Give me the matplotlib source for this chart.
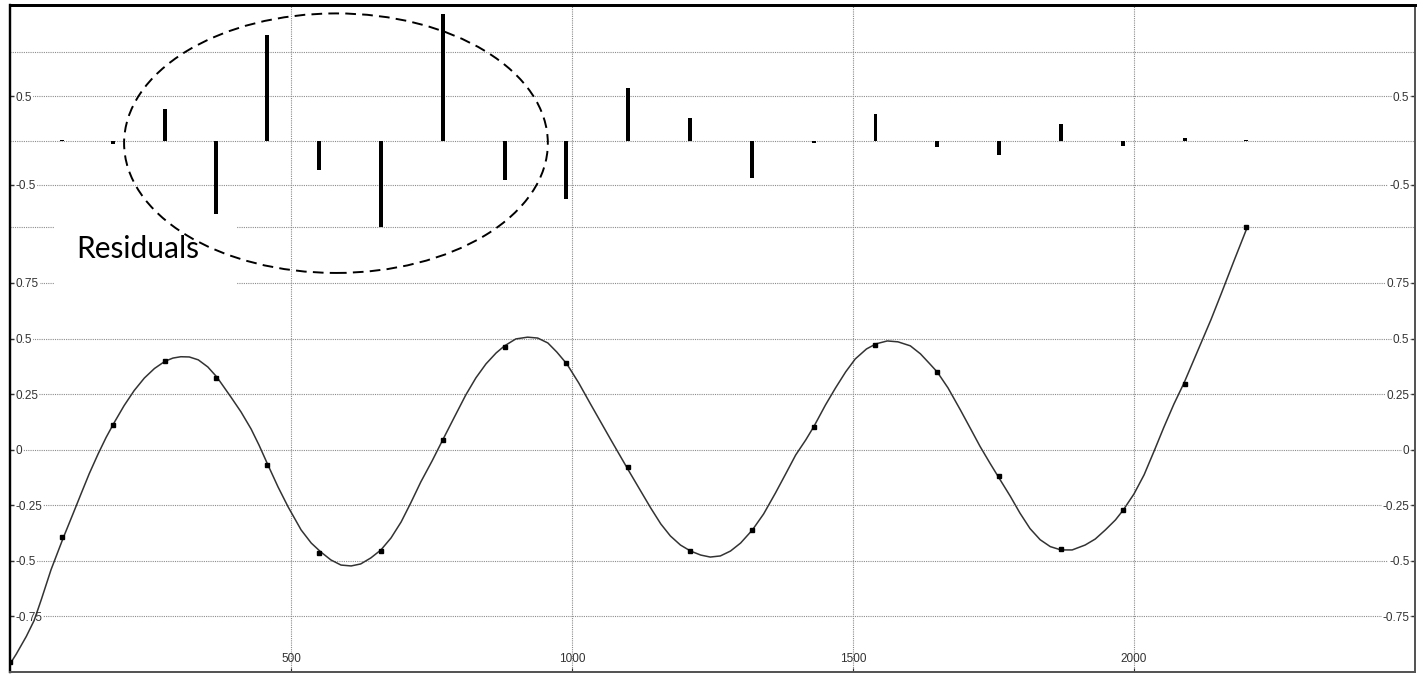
import numpy as np
import matplotlib
matplotlib.use("Agg")
import matplotlib.pyplot as plt
from matplotlib.patches import Ellipse, Rectangle

# sample points (x, measured value)
pts_x = [0, 92, 183, 275, 367, 458, 550, 660, 770, 880, 990, 1100,
         1210, 1320, 1430, 1540, 1650, 1760, 1870, 1980, 2090, 2200]
pts_y = [-0.955, -0.393, 0.111, 0.400, 0.324, -0.068, -0.464, -0.455, 0.045, 0.464, 0.392, -0.077,
         -0.455, -0.360, 0.104, 0.473, 0.351, -0.117, -0.446, -0.270, 0.297, 1.000]

# residuals at the same x (own scale, top band)
resid = [0.0, 0.01, -0.035, 0.36, -0.83, 1.19, -0.33, -0.975, 1.43, -0.44, -0.655, 0.59,
         0.25, -0.42, -0.03, 0.30, -0.075, -0.16, 0.19, -0.067, 0.03, 0.008]

# fitted curve
curve_x = [2, 11, 20, 29, 43, 56, 73, 95, 113, 127, 141, 157, 171, 185, 203, 221, 239, 257,
           276, 290, 304, 319, 335, 352, 368, 393, 411, 429, 443, 459, 477, 495, 518, 536, 553,
           571, 589, 607, 624, 642, 660, 678, 696, 713, 731, 751, 770, 790, 811, 829, 847, 865,
           880, 900, 921, 939, 957, 973, 991, 1012, 1033, 1051, 1069, 1085, 1101, 1122, 1140,
           1158, 1175, 1193, 1211, 1229, 1246, 1264, 1282, 1300, 1321, 1341, 1362, 1380, 1398,
           1416, 1431, 1451, 1469, 1487, 1504, 1524, 1541, 1561, 1580, 1602, 1620, 1637, 1650,
           1669, 1691, 1709, 1726, 1744, 1760, 1780, 1797, 1815, 1833, 1851, 1870, 1890, 1913,
           1931, 1949, 1967, 1981, 2000, 2018, 2036, 2053, 2071, 2089, 2105, 2121, 2137, 2155,
           2178, 2201]
curve_y = [-0.956, -0.920, -0.880, -0.840, -0.768, -0.672, -0.540, -0.395, -0.283, -0.195,
           -0.108, -0.018, 0.055, 0.120, 0.198, 0.266, 0.322, 0.365, 0.398, 0.412, 0.418, 0.417,
           0.404, 0.372, 0.327, 0.237, 0.170, 0.093, 0.021, -0.069, -0.168, -0.258, -0.361,
           -0.420, -0.460, -0.496, -0.519, -0.523, -0.514, -0.487, -0.451, -0.397, -0.325,
           -0.240, -0.145, -0.051, 0.044, 0.143, 0.246, 0.323, 0.386, 0.435, 0.467, 0.498, 0.506,
           0.502, 0.480, 0.439, 0.385, 0.300, 0.205, 0.125, 0.045, -0.025, -0.095, -0.185, -0.262,
           -0.334, -0.388, -0.429, -0.456, -0.474, -0.483, -0.478, -0.456, -0.420, -0.361, -0.289,
           -0.195, -0.110, -0.024, 0.044, 0.107, 0.201, 0.278, 0.350, 0.408, 0.453, 0.476, 0.489,
           0.485, 0.467, 0.431, 0.385, 0.349, 0.278, 0.179, 0.095, 0.015, -0.062, -0.128, -0.210,
           -0.285, -0.355, -0.405, -0.436, -0.451, -0.451, -0.429, -0.402, -0.361, -0.316, -0.271,
           -0.199, -0.113, -0.005, 0.100, 0.205, 0.300, 0.395, 0.490, 0.585, 0.700, 0.850, 0.997]

fit_ticks = [-0.75, -0.5, -0.25, 0, 0.25, 0.5, 0.75]
fit_labels = ['-0.75', '-0.5', '-0.25', '0', '0.25', '0.5', '0.75']
res_ticks = [-0.5, 0.5]
res_labels = ['-0.5', '0.5']
x_ticks = [500, 1000, 1500, 2000]

W, H = 1424, 674
fig = plt.figure(figsize=(W / 100, H / 100), dpi=100)
ax = fig.add_axes([10 / W, 2 / H, 1405 / W, 667 / H])
axr = ax.twinx()

grid_kw = dict(color='#8c8c8c', linestyle=(0, (1, 1)), linewidth=0.8)
lab_font = dict(family='Liberation Sans', size=8.5)


def style_y(a, ticks, labels, minor):
    a.set_yticks(ticks)
    a.set_yticklabels(labels)
    a.set_yticks(minor, minor=True)
    a.tick_params(axis='y', which='major', direction='in', length=3, width=1, color='#333333',
                  pad=-4, left=True, right=True, labelleft=True, labelright=True,
                  labelcolor='#333333', labelsize=8.5)
    a.tick_params(axis='y', which='minor', length=0, left=False, right=False)
    for t in a.yaxis.get_major_ticks():
        t.label1.set_ha('left')
        t.label2.set_ha('right')
        for lb in (t.label1, t.label2):
            lb.set_family('Liberation Sans')
            lb.set_bbox(dict(facecolor='white', edgecolor='none', pad=0.6))
    a.yaxis.grid(True, which='both', **grid_kw)


ax.set_xlim(0, 2500)
ax.set_ylim(-1.0, 2.0)
axr.set_ylim(-6.0, 1.53)

style_y(ax, fit_ticks, fit_labels, [1.0])
style_y(axr, res_ticks, res_labels, [0.0, 1.0])

ax.set_xticks(x_ticks)
ax.set_xticklabels([str(v) for v in x_ticks], **lab_font, color='#333333')
ax.tick_params(axis='x', direction='in', length=3, color='#333333', pad=-14)
ax.xaxis.grid(True, **grid_kw)

# fitted curve and sample points
ax.plot(curve_x, curve_y, color='#333333', linewidth=1.1, zorder=3,
        solid_joinstyle='round', solid_capstyle='round')
ax.plot(pts_x, pts_y, linestyle='none', marker='s', markersize=3.2, color='black', zorder=4)

# residual bars
axr.bar(pts_x, resid, width=7, color='black', edgecolor='none', zorder=2)

# white label box, "Residuals" text and the dashed ring
axr.add_patch(Rectangle((44 / 1405, 380 / 667), 183 / 1405, 77 / 667, transform=axr.transAxes,
                        facecolor='white', edgecolor='none', zorder=5))
axr.text(66 / 1405, 414 / 667, 'Residuals', transform=axr.transAxes, family='Lato',
         fontsize=21.5, color='black', va='baseline', ha='left', zorder=6)
axr.add_patch(Ellipse((580, -0.03), 754, 2.93, facecolor='none', edgecolor='black',
                      linestyle=(0, (5.5, 3.2)), linewidth=1.4, zorder=7))

for side in ('top', 'left'):
    ax.spines[side].set_color('black')
    axr.spines[side].set_color('black')
ax.spines['top'].set_linewidth(2.0)
axr.spines['top'].set_linewidth(2.0)
ax.spines['left'].set_linewidth(1.6)
axr.spines['left'].set_linewidth(1.6)
for side in ('right', 'bottom'):
    ax.spines[side].set_color('#555555')
    axr.spines[side].set_color('#555555')
    ax.spines[side].set_linewidth(1.4)
    axr.spines[side].set_linewidth(1.4)

fig.savefig('out.png', dpi=100)
